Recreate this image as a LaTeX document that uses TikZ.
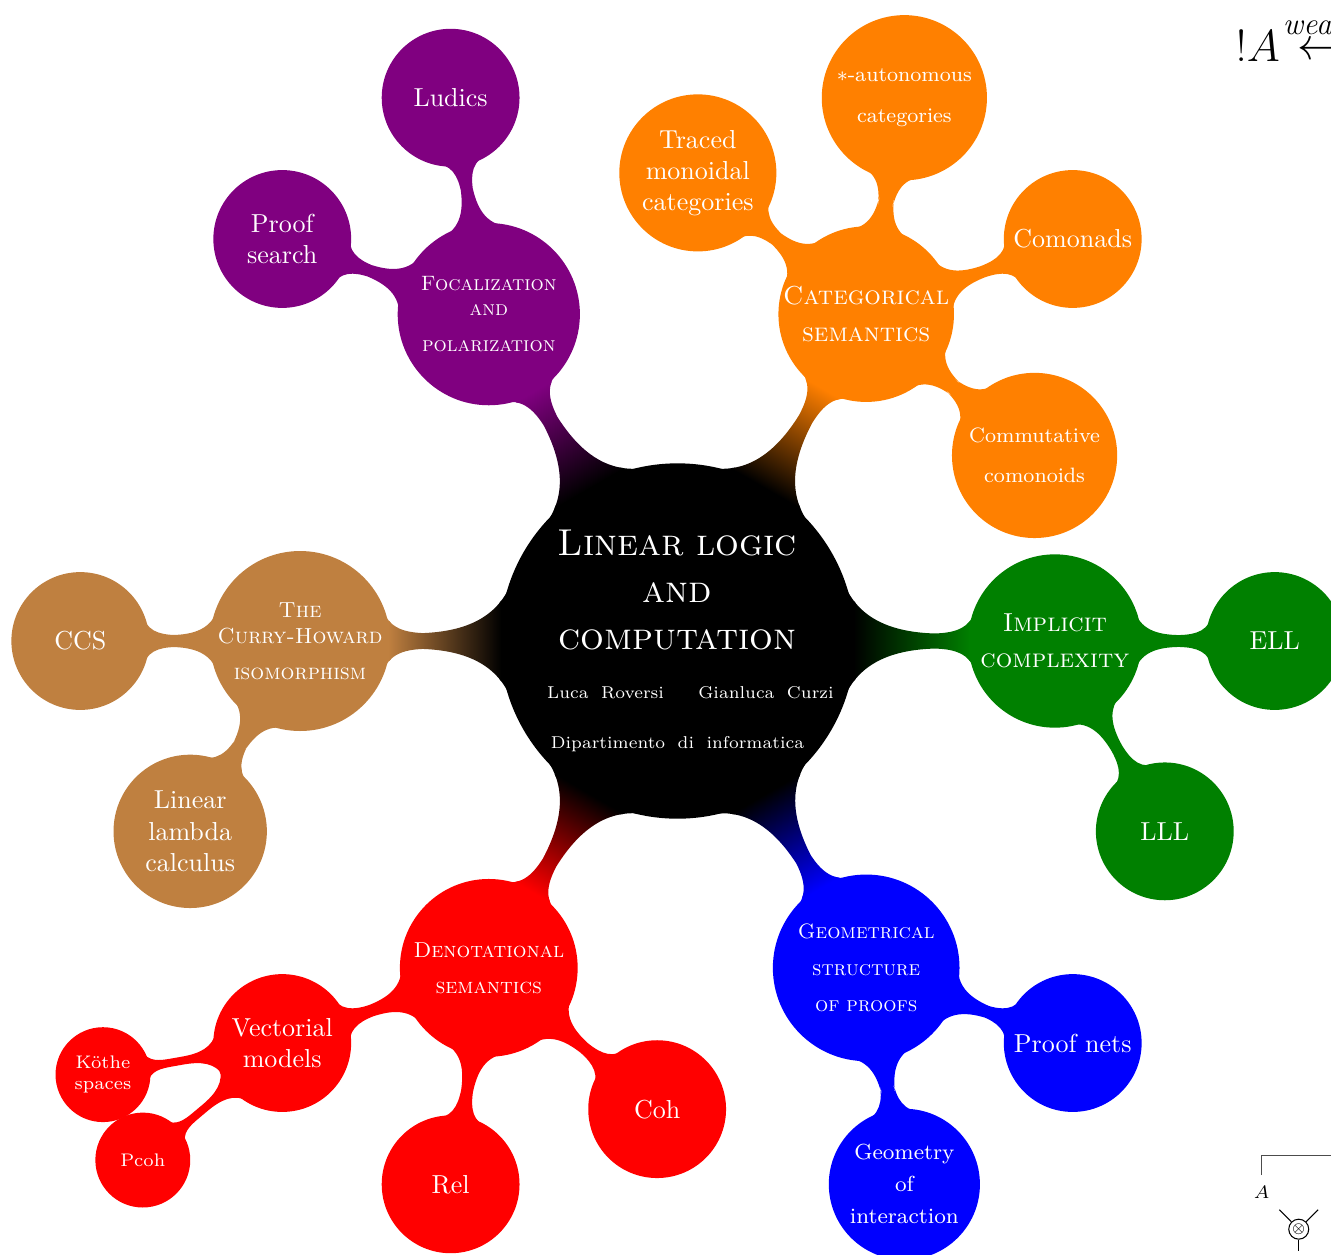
\documentclass[tikz,border=0pt]{standalone}
\usepackage{amsmath}
\usepackage{amssymb}
\usetikzlibrary{mindmap}
\definecolor{mmviolet}{rgb}{0.5,0,0.5}
\definecolor{mmorange}{rgb}{1,0.5,0}
\definecolor{mmgreen}{rgb}{0,0.5,0}
\definecolor{mmbrown}{rgb}{0.75,0.5,0.25}
\definecolor{mmred}{rgb}{1,0,0}
\definecolor{mmblue}{rgb}{0,0,1}
\newcommand{\authorfont}{\upshape\fontsize{6.6}{8}\selectfont}

\begin{document}
\begin{tikzpicture}
	\useasboundingbox (0, 0) rectangle (17.986, -16.946);
	\path[mindmap, concept color=black, text=white,
		every node/.style={concept, align=center},
		level 1/.append style={level distance=5.1cm},
		level 2/.append style={level distance=2.97cm},
		level 3/.append style={level distance=2.46cm},
		level 1 concept/.append style={minimum size=2.3cm, text width=2.5cm, inner sep=-6pt, font=\scshape},
		level 2 concept/.append style={minimum size=1.82cm, text width=1.7cm, inner sep=-3pt, font=\normalsize},
		level 3 concept/.append style={minimum size=1.24cm, text width=1cm, inner sep=0pt, font=\scriptsize}]
		node[concept, minimum size=4.76cm, text width=4.6cm, inner sep=-10pt, font=\Large\scshape] (logic) at (9.155, -8.662)
			{Linear logic\\ and\\ computation\\[1pt] {\authorfont\hspace*{0.35cm}Luca Roversi\qquad Gianluca Curzi}\\[1pt] {\authorfont Dipartimento di informatica}}
		child[concept color=mmgreen, grow=0] { node (implicit) {Implicit\\[2pt] complexity}
			child[grow=0] { node (ell) {ELL} }
			child[grow=-60] { node (lll) {LLL} } }
		child[concept color=mmorange, grow=60] { node[minimum size=2.33cm] (categorical) {Categorical\\[2pt] semantics}
			child[grow=140] { node[minimum size=2.08cm] (traced) {Traced\\ monoidal\\ categories} }
			child[grow=80] { node[minimum size=2.19cm, text width=1.95cm, font=\footnotesize] (autonomous) {$\ast$-autonomous\\[6.5pt] categories} }
			child[grow=20] { node (comonads) {Comonads} }
			child[grow=-40] { node[minimum size=2.19cm, text width=1.95cm, font=\footnotesize] (cocomonoids) {Commutative\\[6pt] comonoids} } }
		child[concept color=mmviolet, grow=120] { node[minimum size=2.42cm, font=\footnotesize\scshape] (focalization) {Focalization\\[0pt] and\\[4.5pt] polarization}
			child[grow=100] { node (ludics) {Ludics} }
			child[grow=160] { node (proofsearch) {Proof\\ search} } }
		child[concept color=mmbrown, grow=180] { node[minimum size=2.39cm, font={\fontsize{8.4}{10}\selectfont\scshape}] (curryhoward) {The\\[0pt] Curry-Howard\\[4pt] isomorphism}
			child[grow=180] { node (ccs) {CCS} }
			child[grow=240] { node[minimum size=2.03cm] (lambda) {Linear\\ lambda\\ calculus} } }
		child[concept color=mmred, grow=240] { node[minimum size=2.36cm, font={\fontsize{8.3}{10}\selectfont\scshape}] (denotational) {Denotational\\[3.8pt] semantics}
			child[grow=200] { node (vectorial) {Vectorial\\ models}
				child[grow=190] { node (kothe) {Köthe\\ spaces} }
				child[grow=220] { node (pcoh) {Pcoh} } }
			child[grow=260] { node (rel) {Rel} }
			child[grow=320] { node (coh) {Coh} } }
		child[concept color=mmblue, grow=300] { node[minimum size=2.48cm, font=\footnotesize\scshape] (geometrical) {Geometrical\\[4.5pt] structure\\[4.5pt] of proofs}
			child[grow=-20] { node (proofnets) {Proof nets} }
			child[grow=280] { node[minimum size=2cm, font={\fontsize{8.4}{10}\selectfont}] (goi) {Geometry\\[2.3pt] of\\[2.3pt] interaction} } };
	\node[anchor=base west, font=\LARGE, inner sep=0pt] (banga) at (16.69, -0.83) {$!A$};
	\node[anchor=base west, font=\large, inner sep=0pt] (weak) at (17.33, -0.47) {$\mathit{weak}$};
	\node[anchor=base west, font=\LARGE, inner sep=0pt] (weakarrow) at (17.53, -0.8) {$\longleftarrow$};
	\draw[black!70] (17.05, -15.88) |- (18.2, -15.61);
	\node[font=\scriptsize] (tensorleft) at (17.05, -16.11) {$A$};
	\node[draw, circle, inner sep=0pt, minimum size=0.27cm] (tensor) at (17.55, -16.61) {$\scriptscriptstyle\otimes$};
	\draw (tensor.north west) -- ++(135:0.23);
	\draw (tensor.north east) -- ++(45:0.23);
	\draw (tensor.south) -- ++(0, -0.15);
\end{tikzpicture}
\end{document}
